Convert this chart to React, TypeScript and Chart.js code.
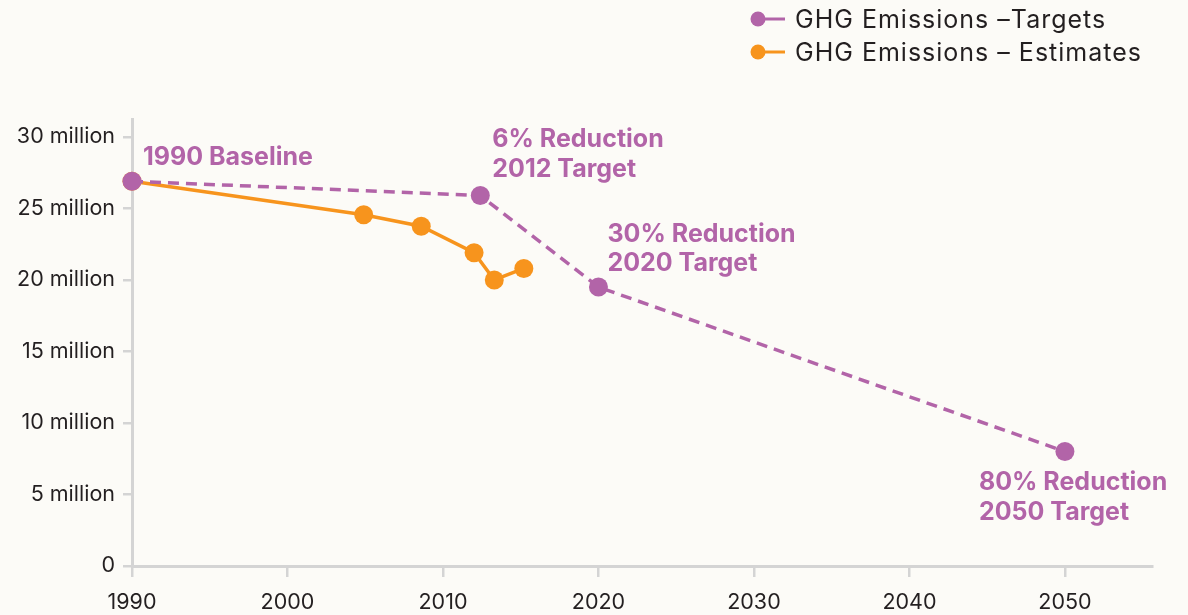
import React, { useEffect, useRef } from "react";
import { Chart, registerables } from "chart.js";

Chart.register(...registerables);

const targetYears = [1990, 2012.4, 2020, 2050];
const targetValues = [26.9e6, 25.9e6, 19.5e6, 8.0e6];
const estimateYears = [1990, 2004.9, 2008.6, 2012, 2013.3, 2015.2];
const estimateValues = [26.9e6, 24.55e6, 23.75e6, 21.9e6, 20.0e6, 20.8e6];
const xTicks = [1990, 2000, 2010, 2020, 2030, 2040, 2050];
const yTicks = [0, 5e6, 10e6, 15e6, 20e6, 25e6, 30e6];
const legendLabels = ["GHG Emissions –Targets", "GHG Emissions – Estimates"];
const annotationLines = [
  ["1990 Baseline"],
  ["6% Reduction", "2012 Target"],
  ["30% Reduction", "2020 Target"],
  ["80% Reduction", "2050 Target"],
];

const PURPLE = "#b264a8";
const ORANGE = "#f7941d";
const BG = "#fcfbf7";
const AXIS = "#d4d4d4";
const TEXT = "#231f20";
const FONT = "Inter, 'Noto Sans', sans-serif";

// pixel offsets of annotations relative to their target point [dx, dy of first line]
const annotationOffsets = [
  [11, -24],
  [12, -56],
  [9, -53],
  [-86, 31],
];

const annotationPlugin = {
  id: "annotations",
  afterDatasetsDraw(chart: any) {
    const ctx = chart.ctx;
    const xs = chart.scales.x;
    const ys = chart.scales.y;
    ctx.save();
    ctx.fillStyle = PURPLE;
    ctx.font = `bold 25px ${FONT}`;
    ctx.textBaseline = "middle";
    ctx.textAlign = "left";
    annotationLines.forEach((lines, i) => {
      const px = xs.getPixelForValue(targetYears[i]);
      const py = ys.getPixelForValue(targetValues[i]);
      const [dx, dy] = annotationOffsets[i];
      lines.forEach((t, j) => {
        ctx.fillText(t, px + dx, py + dy + j * 29.5);
      });
    });
    ctx.restore();
  },
};

const legendPlugin = {
  id: "customLegend",
  afterDraw(chart: any) {
    const ctx = chart.ctx;
    const colors = [PURPLE, ORANGE];
    ctx.save();
    legendLabels.forEach((label, i) => {
      const y = 19 + i * 33;
      ctx.strokeStyle = colors[i];
      ctx.lineWidth = 3;
      ctx.beginPath();
      ctx.moveTo(758, y);
      ctx.lineTo(785, y);
      ctx.stroke();
      ctx.fillStyle = colors[i];
      ctx.beginPath();
      ctx.arc(758, y, 7.5, 0, Math.PI * 2);
      ctx.fill();
      ctx.fillStyle = TEXT;
      ctx.font = `25px ${FONT}`;
      (ctx as any).letterSpacing = "1px";
      ctx.textBaseline = "middle";
      ctx.textAlign = "left";
      ctx.fillText(label, 795, y + 1);
      (ctx as any).letterSpacing = "0px";
    });
    ctx.restore();
  },
};

export default function App() {
  const ref = useRef<HTMLCanvasElement>(null);
  useEffect(() => {
    document.body.style.margin = "0";
    const chart = new Chart(ref.current!, {
      type: "line",
      data: {
        datasets: [
          {
            label: legendLabels[0],
            data: targetYears.map((x, i) => ({ x, y: targetValues[i] })),
            borderColor: PURPLE,
            backgroundColor: PURPLE,
            borderWidth: 3.5,
            borderDash: [11, 7],
            pointRadius: 9.5,
            pointBorderWidth: 0,
            pointHoverRadius: 9.5,
            clip: false,
          },
          {
            label: legendLabels[1],
            data: estimateYears.map((x, i) => ({ x, y: estimateValues[i] })),
            borderColor: ORANGE,
            backgroundColor: ORANGE,
            borderWidth: 3.5,
            pointRadius: 9.5,
            pointBorderWidth: 0,
            pointHoverRadius: 9.5,
            clip: false,
          },
        ],
      },
      options: {
        animation: false,
        responsive: true,
        maintainAspectRatio: false,
        layout: { padding: { top: 119, right: 36, left: 0, bottom: 0 } },
        plugins: { legend: { display: false }, tooltip: { enabled: false } },
        scales: {
          x: {
            type: "linear",
            min: 1990,
            max: 2055.6,
            afterFit: (s: any) => {
              s.height = 49;
            },
            afterBuildTicks: (s: any) => {
              s.ticks = xTicks.map((v) => ({ value: v }));
            },
            grid: {
              drawOnChartArea: false,
              drawTicks: true,
              tickLength: 11,
              color: AXIS,
              lineWidth: 2.5,
            },
            border: { color: AXIS, width: 3 },
            ticks: {
              color: TEXT,
              font: { family: FONT, size: 21.5 },
              padding: 13,
              maxRotation: 0,
              callback: (v: any) => String(v),
            },
          },
          y: {
            type: "linear",
            min: 0,
            max: 31.25e6,
            afterFit: (s: any) => {
              s.width = 132;
            },
            afterBuildTicks: (s: any) => {
              s.ticks = yTicks.map((v) => ({ value: v }));
            },
            grid: {
              drawOnChartArea: false,
              drawTicks: true,
              tickLength: 9,
              color: AXIS,
              lineWidth: 2.5,
            },
            border: { color: AXIS, width: 3 },
            ticks: {
              color: TEXT,
              font: { family: FONT, size: 21.5 },
              padding: 8,
              callback: (v: any) => (v === 0 ? "0" : `${v / 1e6} million`),
            },
          },
        },
      },
      plugins: [annotationPlugin, legendPlugin],
    });
    return () => chart.destroy();
  }, []);
  return (
    <div
      style={{
        position: "fixed",
        left: 0,
        top: 0,
        width: 1188,
        height: 615,
        background: BG,
      }}
    >
      <canvas ref={ref} />
    </div>
  );
}
